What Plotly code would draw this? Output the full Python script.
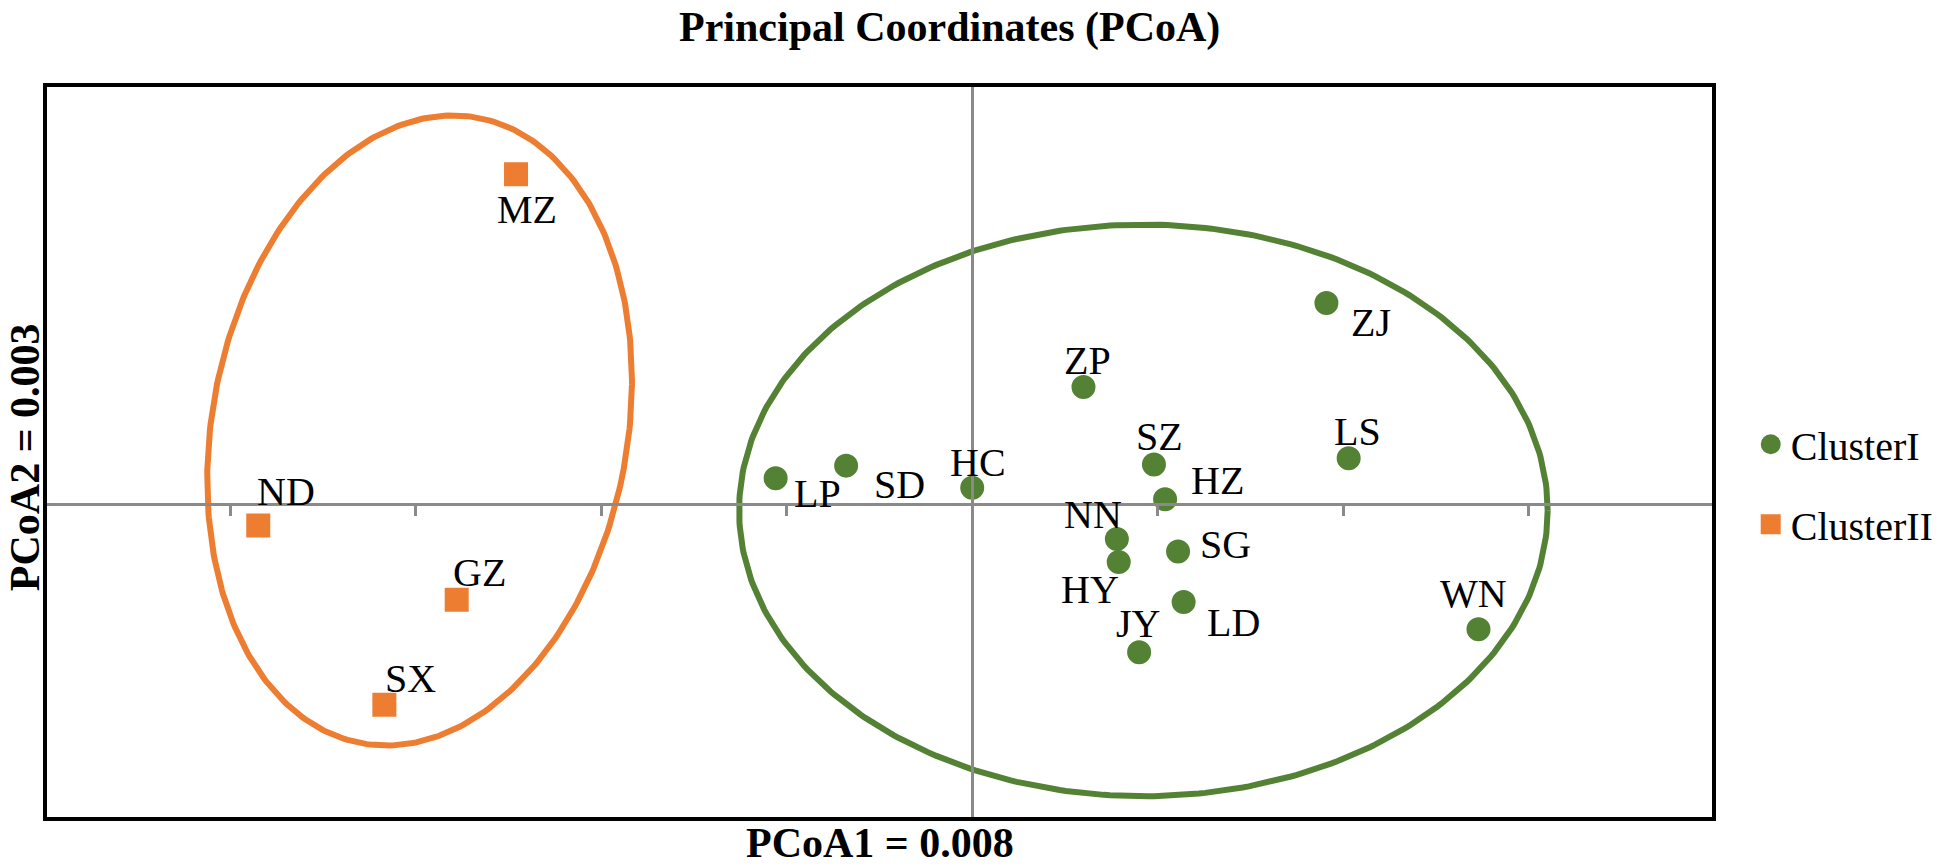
import numpy as np
import plotly.graph_objects as go

# PCoA coordinates
cluster1_names = ["ZJ", "ZP", "SZ", "LS", "LP", "SD", "HC", "HZ", "NN", "SG", "HY", "LD", "JY", "WN"]
cluster1_x = [0.191, 0.060, 0.098, 0.203, -0.106, -0.068, 0.000, 0.104, 0.078, 0.111, 0.079, 0.114, 0.090, 0.273]
cluster1_y = [0.192, 0.112, 0.038, 0.044, 0.025, 0.037, 0.016, 0.005, -0.033, -0.045, -0.055, -0.093, -0.141, -0.119]

cluster2_names = ["MZ", "ND", "GZ", "SX"]
cluster2_x = [-0.246, -0.385, -0.278, -0.317]
cluster2_y = [0.315, -0.020, -0.091, -0.191]

x_range = [-0.5, 0.4]
y_range = [-0.3, 0.4]

GREEN = "#548235"
ORANGE = "#ED7D31"
GRAY = "#8a8a8a"
FONT = "Liberation Serif"

W, H = 1952, 868
M = dict(l=45, r=238, t=85, b=49)
plot_w = W - M["l"] - M["r"]
plot_h = H - M["t"] - M["b"]
plot_bottom = H - M["b"]
sx = plot_w / (x_range[1] - x_range[0])
sy = plot_h / (y_range[1] - y_range[0])

# label offsets in pixels (dx right, dy down)
label_off = {
    "ZJ": (45, 19), "ZP": (4, -26), "SZ": (6, -28), "LS": (9, -27), "LP": (42, 15),
    "SD": (53, 19), "HC": (6, -25), "HZ": (52, -19), "NN": (-24, -25), "SG": (47, -7),
    "HY": (-29, 27), "LD": (50, 21), "JY": (-1, -29), "WN": (-5, -36),
    "MZ": (11, 35), "ND": (28, -34), "GZ": (23, -27), "SX": (26, -26),
}


def ellipse(cx, cy, rx, ry, angle=0, n=400):
    # rotation is done in screen pixels so the shape tilts as drawn
    t = np.linspace(0, 2 * np.pi, n)
    px = rx * sx * np.cos(t)
    py = ry * sy * np.sin(t)
    a = np.radians(angle)
    qx = px * np.cos(a) - py * np.sin(a)
    qy = px * np.sin(a) + py * np.cos(a)
    return cx + qx / sx, cy + qy / sy


fig = go.Figure()

ex, ey = ellipse(-0.298, 0.0705, 0.112, 0.3034, angle=-10.6)
fig.add_trace(go.Scatter(x=ex, y=ey, mode="lines", line=dict(color=ORANGE, width=6),
                         showlegend=False, hoverinfo="skip"))
ex, ey = ellipse(0.0923, -0.0057, 0.218, 0.2726)
fig.add_trace(go.Scatter(x=ex, y=ey, mode="lines", line=dict(color=GREEN, width=6),
                         showlegend=False, hoverinfo="skip"))

fig.add_trace(go.Scatter(x=cluster1_x, y=cluster1_y, mode="markers", name="ClusterI",
                         text=cluster1_names, legendgroup="a",
                         marker=dict(symbol="circle", size=20, color=GREEN,
                                     line=dict(color=GREEN, width=4))))
fig.add_trace(go.Scatter(x=cluster2_x, y=cluster2_y, mode="markers", name="ClusterII",
                         text=cluster2_names, legendgroup="b",
                         marker=dict(symbol="square", size=20, color=ORANGE,
                                     line=dict(color=ORANGE, width=4))))

for names, xs, ys in [(cluster1_names, cluster1_x, cluster1_y), (cluster2_names, cluster2_x, cluster2_y)]:
    for nm, x, y in zip(names, xs, ys):
        dx, dy = label_off[nm]
        fig.add_annotation(x=x, y=y, text=nm, showarrow=False, xanchor="center", yanchor="middle",
                           xshift=dx, yshift=-dy, font=dict(family=FONT, size=40, color="black"))

# titles, placed by page pixels
fig.add_annotation(x=(949 - M["l"]) / plot_w, y=(plot_bottom - 28) / plot_h,
                   xref="paper", yref="paper", xanchor="center", yanchor="middle",
                   text="<b>Principal Coordinates (PCoA)</b>", showarrow=False,
                   font=dict(family=FONT, size=42, color="black"))
fig.add_annotation(x=0.5, y=(plot_bottom - 843) / plot_h, xref="paper", yref="paper",
                   xanchor="center", yanchor="middle",
                   text="<b>PCoA1 = 0.008</b>", showarrow=False,
                   font=dict(family=FONT, size=42, color="black"))
fig.add_annotation(x=(25 - M["l"]) / plot_w, y=0.493, xref="paper", yref="paper", textangle=-90,
                   xanchor="center", yanchor="middle",
                   text="<b>PCoA2 = 0.003</b>", showarrow=False,
                   font=dict(family=FONT, size=42, color="black"))

# plot frame
fig.add_shape(type="rect", xref="paper", yref="paper", x0=0, y0=0, x1=1, y1=1,
              line=dict(color="black", width=4))

fig.update_layout(
    width=W, height=H, margin=M,
    plot_bgcolor="white", paper_bgcolor="white",
    font=dict(family=FONT, color="black"),
    xaxis=dict(range=x_range, dtick=0.1, tick0=0, showgrid=False, zeroline=False,
               showline=True, linecolor=GRAY, linewidth=2.5,
               anchor="free", position=(0 - y_range[0]) / (y_range[1] - y_range[0]),
               ticks="outside", ticklen=10, tickwidth=2.5, tickcolor=GRAY, showticklabels=False),
    yaxis=dict(range=y_range, showgrid=False, zeroline=False,
               showline=True, linecolor=GRAY, linewidth=2.5,
               anchor="free", position=(0 - x_range[0]) / (x_range[1] - x_range[0]),
               ticks="", showticklabels=False),
    legend=dict(x=1.022, xanchor="left", y=0.456, yanchor="middle",
                font=dict(family=FONT, size=40, color="black"), tracegroupgap=25,
                bgcolor="rgba(0,0,0,0)"),
    showlegend=True,
)

# drop the default 8px body margin so the figure fills the window exactly
fig.write_html("out.html", config={"displayModeBar": False},
               post_script="document.body.style.margin='0';")
